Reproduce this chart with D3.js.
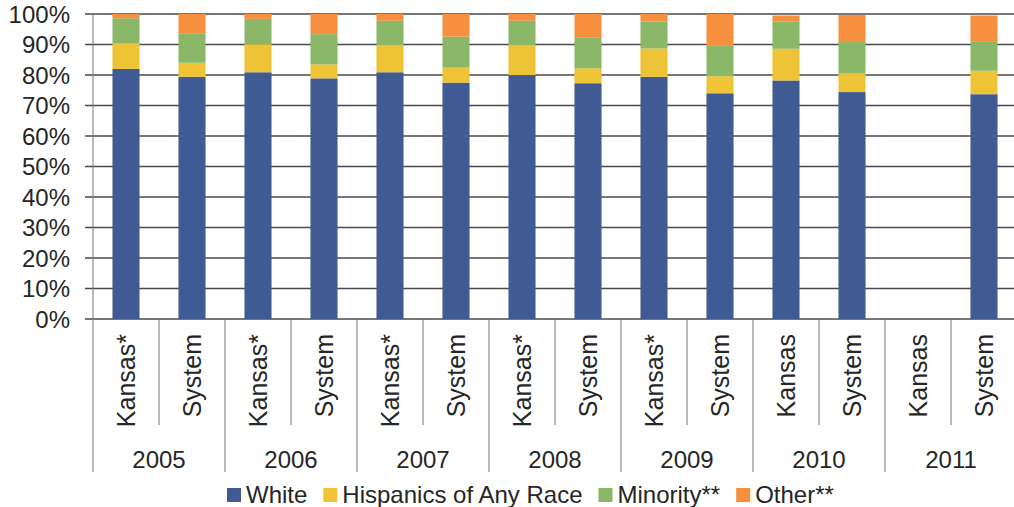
<meta charset="UTF-8">
<script src="https://cdn.jsdelivr.net/npm/d3@7"></script>
<style>
 body { margin:0; background:#fff; }
 svg { display:block; font-family:"Liberation Sans", Arial, sans-serif; }
 .grid line { stroke:#4a4a4a; stroke-width:1.4px; }
 .sep { stroke:#777; stroke-width:1px; }
 .lbl { fill:#262626; font-size:24px; }
 .cat { font-size:25px; }
</style>
<svg id="chart"></svg>
<script>
 // Data
 var years = ["2005", "2006", "2007", "2008", "2009", "2010", "2011"];
 var labels = ["Kansas*", "System", "Kansas*", "System", "Kansas*", "System", "Kansas*", "System",
               "Kansas*", "System", "Kansas", "System", "Kansas", "System"];
 var white    = [82.0, 79.4, 80.9, 78.9, 80.9, 77.5, 80.0, 77.3, 79.4, 74.0, 78.2, 74.4, 0, 73.7];
 var hispanic = [ 8.4,  4.6,  9.2,  4.6,  8.9,  4.9,  9.8,  4.9,  9.3,  5.6, 10.4,  6.1, 0,  7.7];
 var minority = [ 8.2,  9.7,  8.3,  9.9,  8.0, 10.2,  8.0, 10.0,  8.8, 10.1,  8.9, 10.3, 0,  9.7];
 var other    = [ 1.4,  6.3,  1.6,  6.6,  2.2,  7.4,  2.2,  7.8,  2.5, 10.3,  2.0,  8.9, 0,  8.4];
 var seriesNames = ["White", "Hispanics of Any Race", "Minority**", "Other**"];
 var colors = ["#405a93", "#efc336", "#8bb769", "#f6903f"];
 var yTicks = [0, 10, 20, 30, 40, 50, 60, 70, 80, 90, 100];

 var W = 1014, H = 507;
 var mLeft = 93, mRight = 1017, mTop = 14, mBottom = 319;
 var svg = d3.select("#chart").attr("width", W).attr("height", H);

 var x = d3.scaleBand().domain(d3.range(labels.length)).range([mLeft, mRight]);
 var barW = x.bandwidth() * 0.41;
 var y = d3.scaleLinear().domain([0, 100]).range([mBottom, mTop]);

 // gridlines + y axis
 var g = svg.append("g").attr("class", "grid");
 g.selectAll("line").data(yTicks).enter().append("line")
  .attr("x1", mLeft - 8).attr("x2", mRight)
  .attr("y1", function (d) { return y(d); }).attr("y2", function (d) { return y(d); });
 svg.append("line").attr("class", "sep")
  .attr("x1", mLeft).attr("x2", mLeft).attr("y1", mTop).attr("y2", mBottom);
 svg.append("g").selectAll("text").data(yTicks).enter().append("text")
  .attr("class", "lbl").attr("text-anchor", "end")
  .attr("x", 70).attr("y", function (d) { return y(d); }).attr("dy", "0.36em")
  .text(function (d) { return d + "%"; });

 // stacked bars
 var rows = labels.map(function (l, i) {
   return { i: i, White: white[i], "Hispanics of Any Race": hispanic[i], "Minority**": minority[i], "Other**": other[i] };
 });
 var stack = d3.stack().keys(seriesNames)(rows);
 svg.append("g").selectAll("g").data(stack).enter().append("g")
  .attr("fill", function (d, k) { return colors[k]; })
  .selectAll("rect").data(function (d) { return d.filter(function (p) { return p[1] - p[0] > 0; }); })
  .enter().append("rect")
  .attr("x", function (d) { return x(d.data.i) + (x.bandwidth() - barW) / 2; })
  .attr("width", barW)
  .attr("y", function (d) { return y(d[1]); })
  .attr("height", function (d) { return y(d[0]) - y(d[1]); });

 // category separators and labels
 var seps = d3.range(labels.length + 1);
 svg.append("g").selectAll("line").data(seps).enter().append("line")
  .attr("class", "sep")
  .attr("x1", function (d) { return mLeft + d * x.step(); })
  .attr("x2", function (d) { return mLeft + d * x.step(); })
  .attr("y1", mBottom)
  .attr("y2", function (d) { return d % 2 == 0 ? 472 : 425; });
 svg.append("g").selectAll("text").data(labels).enter().append("text")
  .attr("class", "lbl cat").attr("text-anchor", "end")
  .attr("transform", function (d, i) { return "translate(" + (x(i) + x.bandwidth() / 2) + ",334) rotate(-90)"; })
  .attr("dy", "0.36em")
  .text(function (d) { return d; });
 svg.append("g").selectAll("text").data(years).enter().append("text")
  .attr("class", "lbl").attr("text-anchor", "middle")
  .attr("x", function (d, k) { return mLeft + (2 * k + 1) * x.step(); })
  .attr("y", 468)
  .text(function (d) { return d; });

 // legend
 var lx = 227;
 var leg = svg.append("g");
 seriesNames.forEach(function (name, k) {
   leg.append("rect").attr("x", lx).attr("y", 488).attr("width", 14).attr("height", 14).attr("fill", colors[k]);
   var t = leg.append("text").attr("class", "lbl").attr("x", lx + 19).attr("y", 503).text(name);
   lx += 19 + t.node().getComputedTextLength() + 16;
 });
</script>
